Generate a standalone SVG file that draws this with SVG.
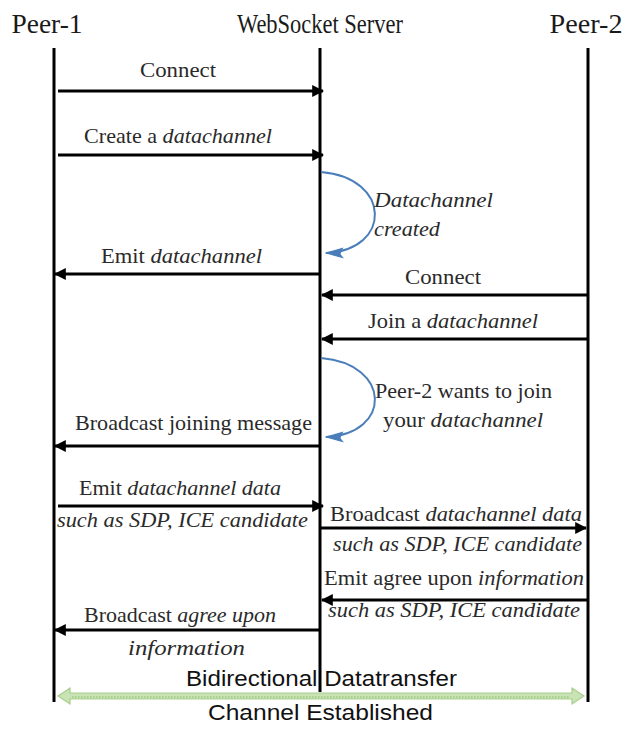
<svg xmlns="http://www.w3.org/2000/svg" width="632" height="729" viewBox="0 0 632 729">
<style>
.hd{font-family:"Liberation Serif","Times New Roman",serif;font-size:27px;fill:#1a1a1a}
.lb{font-family:"Liberation Serif","Times New Roman",serif;font-size:22px;fill:#2a2a2a}
.sn{font-family:"Liberation Sans",Arial,sans-serif;font-size:22px;fill:#111}
.it{font-style:italic}
.life{stroke:#000;stroke-width:3;fill:none}
.msg{stroke:#000;stroke-width:3;fill:none}
.loop{stroke:#4a7ebb;stroke-width:2;fill:none}
</style>
<defs>
<marker id="ah" viewBox="0 0 10 10" refX="9" refY="5" markerWidth="4" markerHeight="4" orient="auto" markerUnits="strokeWidth">
<path d="M0,0 L10,5 L0,10 Z" fill="#000"/>
</marker>
<marker id="bh" viewBox="0 0 12 10" refX="11" refY="6" markerWidth="12" markerHeight="8" orient="auto" markerUnits="strokeWidth">
<path d="M0,2 L12,6 L0,9 L2,5 Z" fill="#4a7ebb"/>
</marker>
</defs>
<g id="peer1"><text class="hd" x="47" y="33" text-anchor="middle" textLength="71" lengthAdjust="spacingAndGlyphs">Peer-1</text><line class="life" x1="54" y1="48" x2="54" y2="702"/></g>
<g id="server"><text class="hd" x="320" y="33" text-anchor="middle" textLength="166" lengthAdjust="spacingAndGlyphs">WebSocket Server</text><line class="life" x1="320" y1="48" x2="320" y2="692"/></g>
<g id="peer2"><text class="hd" x="586" y="33" text-anchor="middle" textLength="73" lengthAdjust="spacingAndGlyphs">Peer-2</text><line class="life" x1="588" y1="48" x2="588" y2="702"/></g>
<g id="connectors">
<line class="msg" x1="58" y1="91" x2="323" y2="91" marker-end="url(#ah)"/>
<line class="msg" x1="58" y1="155" x2="323" y2="155" marker-end="url(#ah)"/>
<path class="loop" d="M321,172 C392,178 392,250 326,253" marker-end="url(#bh)"/>
<line class="msg" x1="320" y1="274" x2="55" y2="274" marker-end="url(#ah)"/>
<line class="msg" x1="588" y1="295" x2="322" y2="295" marker-end="url(#ah)"/>
<line class="msg" x1="588" y1="339" x2="322" y2="339" marker-end="url(#ah)"/>
<path class="loop" d="M321,358 C392,364 392,434 326,437" marker-end="url(#bh)"/>
<line class="msg" x1="320" y1="446" x2="55" y2="446" marker-end="url(#ah)"/>
<line class="msg" x1="58" y1="506" x2="323" y2="506" marker-end="url(#ah)"/>
<line class="msg" x1="320" y1="528" x2="586" y2="528" marker-end="url(#ah)"/>
<line class="msg" x1="588" y1="600" x2="322" y2="600" marker-end="url(#ah)"/>
<line class="msg" x1="320" y1="630" x2="55" y2="630" marker-end="url(#ah)"/>
<path d="M58,696 L70,688 L70,693 L572,693 L572,688 L584,696 L572,704 L572,699 L70,699 L70,704 Z" fill="#c9e3b5" stroke="#a6cf8c" stroke-width="1.2"/>
<line x1="72" y1="697" x2="570" y2="697" stroke="#a6cf8c" stroke-width="2" stroke-dasharray="1.5 1.5"/>
</g>
<g id="msg-labels">
<text class="lb" x="178" y="77" text-anchor="middle" textLength="76" lengthAdjust="spacingAndGlyphs">Connect</text>
<text class="lb" x="84" y="143" textLength="188" lengthAdjust="spacingAndGlyphs">Create a <tspan class="it">datachannel</tspan></text>
<text class="lb it" x="374" y="207" textLength="119" lengthAdjust="spacingAndGlyphs">Datachannel</text>
<text class="lb it" x="374" y="236" textLength="66" lengthAdjust="spacingAndGlyphs">created</text>
<text class="lb" x="101" y="263" textLength="161" lengthAdjust="spacingAndGlyphs">Emit <tspan class="it">datachannel</tspan></text>
<text class="lb" x="405" y="284" textLength="76" lengthAdjust="spacingAndGlyphs">Connect</text>
<text class="lb" x="368" y="328" textLength="170" lengthAdjust="spacingAndGlyphs">Join a <tspan class="it">datachannel</tspan></text>
<text class="lb" x="375" y="398" textLength="177" lengthAdjust="spacingAndGlyphs">Peer-2 wants to join</text>
<text class="lb" x="383" y="427" textLength="160" lengthAdjust="spacingAndGlyphs">your <tspan class="it">datachannel</tspan></text>
<text class="lb" x="75" y="430" textLength="237" lengthAdjust="spacingAndGlyphs">Broadcast joining message</text>
<text class="lb" x="79" y="495" textLength="202" lengthAdjust="spacingAndGlyphs">Emit <tspan class="it">datachannel data</tspan></text>
<text class="lb it" x="57" y="527" textLength="251" lengthAdjust="spacingAndGlyphs">such as SDP, ICE candidate</text>
<text class="lb" x="330" y="521" textLength="252" lengthAdjust="spacingAndGlyphs">Broadcast <tspan class="it">datachannel data</tspan></text>
<text class="lb it" x="333" y="551" textLength="249" lengthAdjust="spacingAndGlyphs">such as SDP, ICE candidate</text>
<text class="lb" x="324" y="585" textLength="260" lengthAdjust="spacingAndGlyphs">Emit agree upon <tspan class="it">information</tspan></text>
<text class="lb it" x="328" y="617" textLength="252" lengthAdjust="spacingAndGlyphs">such as SDP, ICE candidate</text>
<text class="lb" x="84" y="622" textLength="192" lengthAdjust="spacingAndGlyphs">Broadcast <tspan class="it">agree upon</tspan></text>
<text class="lb it" x="128" y="655" textLength="117" lengthAdjust="spacingAndGlyphs">information</text>
<text class="sn" x="186" y="686" textLength="271" lengthAdjust="spacingAndGlyphs">Bidirectional Datatransfer</text>
<text class="sn" x="208" y="720" textLength="225" lengthAdjust="spacingAndGlyphs">Channel Established</text>
</g>
</svg>
